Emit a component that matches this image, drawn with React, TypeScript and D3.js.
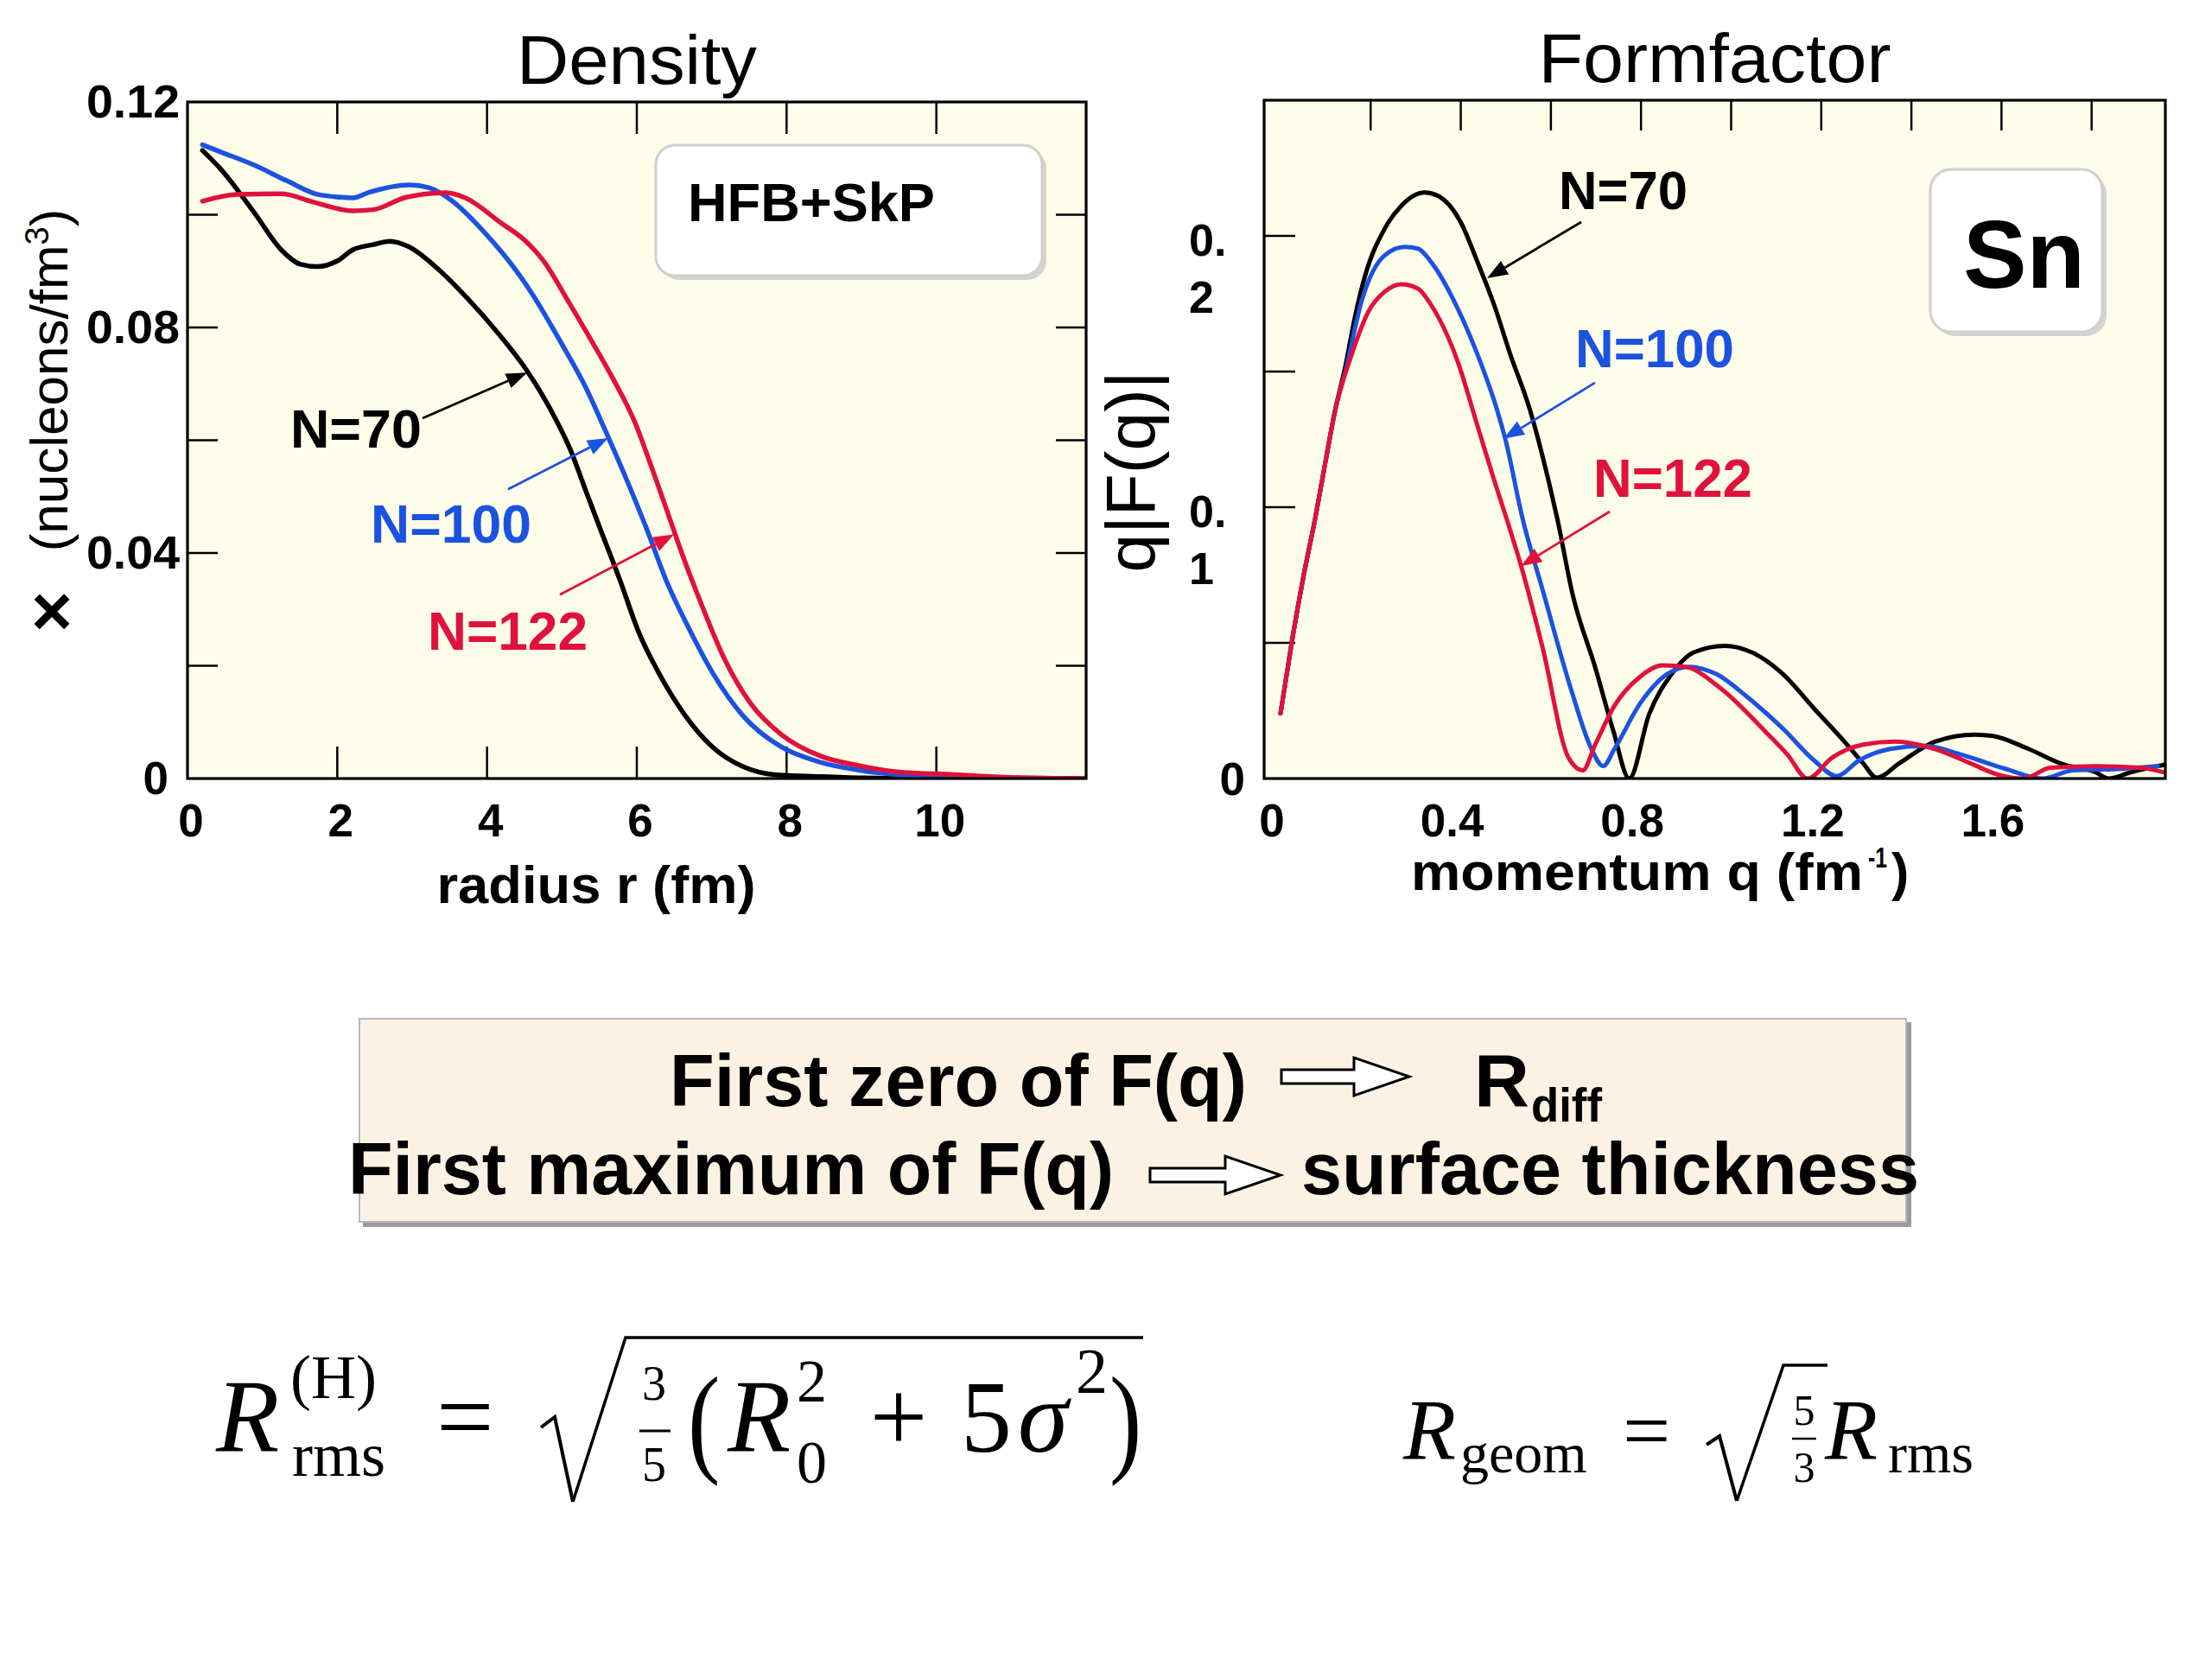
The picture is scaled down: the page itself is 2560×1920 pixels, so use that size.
import React from 'react';
import * as d3 from 'd3';

// ---------------- Data ----------------
const seriesNames = ['N=70', 'N=100', 'N=122'];
const seriesColors = ['#000000', '#1c52e0', '#e0123c'];

// Density (radius r in fm, density in nucleons/fm^3)
const densR70 = [0.2, 0.45, 0.89, 1.25, 1.51, 1.73, 2.0, 2.21, 2.48, 2.7, 2.96, 3.36, 3.75, 4.14, 4.55, 4.85, 5.11, 5.32, 5.52, 5.78, 6.03, 6.29, 6.65, 7.01, 7.42, 7.83, 8.34, 9.0, 10.0, 11.0, 12.0];
const densRho70 = [0.1114, 0.108, 0.1004, 0.0938, 0.0912, 0.0908, 0.0918, 0.0938, 0.0947, 0.0953, 0.0943, 0.0902, 0.085, 0.0791, 0.072, 0.0654, 0.0584, 0.051, 0.044, 0.035, 0.0258, 0.0188, 0.0111, 0.0056, 0.0021, 0.0007, 0.0004, 0.0001, 0, 0, 0];
const densR100 = [0.2, 0.45, 0.89, 1.33, 1.77, 2.21, 2.43, 2.96, 3.22, 3.53, 3.97, 4.41, 4.6, 4.85, 5.01, 5.32, 5.57, 5.88, 6.14, 6.39, 6.7, 7.01, 7.42, 7.93, 8.45, 8.96, 9.47, 10.24, 11.0, 12.0];
const densRho100 = [0.1124, 0.1111, 0.1088, 0.106, 0.1035, 0.103, 0.104, 0.1053, 0.1048, 0.1025, 0.0968, 0.0897, 0.086, 0.0805, 0.0768, 0.0693, 0.062, 0.0525, 0.044, 0.0352, 0.0265, 0.0188, 0.0111, 0.0056, 0.0029, 0.0015, 0.0007, 0.0002, 0.0001, 0];
const densR122 = [0.2, 0.67, 1.25, 1.69, 2.21, 2.48, 2.92, 3.45, 3.71, 4.19, 4.5, 4.77, 5.06, 5.37, 5.67, 5.98, 6.19, 6.39, 6.6, 6.86, 7.16, 7.52, 7.93, 8.45, 8.96, 9.47, 10.24, 11.0, 12.0];
const densRho122 = [0.1024, 0.1036, 0.1037, 0.1022, 0.1007, 0.1009, 0.1031, 0.1039, 0.103, 0.0985, 0.0955, 0.0915, 0.0852, 0.0782, 0.0712, 0.063, 0.0555, 0.048, 0.04, 0.031, 0.0215, 0.0133, 0.0078, 0.004, 0.0023, 0.0012, 0.0007, 0.0002, 0];

// Form factor (momentum q in fm^-1, q|F(q)|)
const ffQ70 = [0, 0.026, 0.051, 0.077, 0.1, 0.121, 0.144, 0.165, 0.188, 0.231, 0.268, 0.32, 0.349, 0.4, 0.437, 0.474, 0.51, 0.554, 0.598, 0.614, 0.648, 0.699, 0.739, 0.774, 0.818, 0.868, 0.917, 0.986, 1.046, 1.115, 1.184, 1.254, 1.293, 1.323, 1.373, 1.452, 1.541, 1.581, 1.66, 1.739, 1.808, 1.838, 1.888, 1.96];
const ffF70 = [0.024, 0.0513, 0.0746, 0.0959, 0.117, 0.1356, 0.152, 0.17, 0.1855, 0.2026, 0.2111, 0.216, 0.2148, 0.205, 0.1904, 0.1746, 0.1563, 0.1356, 0.1075, 0.0959, 0.068, 0.0406, 0.0173, 0, 0.0237, 0.0385, 0.0465, 0.0489, 0.0465, 0.0385, 0.0258, 0.0131, 0.0056, 0.0003, 0.0056, 0.0136, 0.0162, 0.0157, 0.0109, 0.0051, 0.0024, 0, 0.0024, 0.005];
const ffQ100 = [0, 0.026, 0.051, 0.077, 0.1, 0.121, 0.144, 0.18, 0.231, 0.276, 0.305, 0.334, 0.393, 0.437, 0.481, 0.499, 0.537, 0.582, 0.646, 0.69, 0.716, 0.741, 0.799, 0.858, 0.907, 0.967, 1.036, 1.115, 1.184, 1.234, 1.284, 1.353, 1.432, 1.511, 1.61, 1.69, 1.759, 1.858, 1.947];
const ffF100 = [0.024, 0.0513, 0.0746, 0.0959, 0.117, 0.1356, 0.15, 0.176, 0.1928, 0.1959, 0.1953, 0.1904, 0.1733, 0.1563, 0.1356, 0.125, 0.0959, 0.0693, 0.0322, 0.0109, 0.0046, 0.0109, 0.0279, 0.0385, 0.0412, 0.0385, 0.03, 0.0184, 0.0067, 0.0009, 0.0067, 0.0109, 0.012, 0.0088, 0.0035, 0, 0.003, 0.0035, 0.0046];
const ffQ122 = [0, 0.026, 0.051, 0.077, 0.1, 0.121, 0.158, 0.195, 0.231, 0.268, 0.305, 0.334, 0.393, 0.437, 0.474, 0.505, 0.531, 0.582, 0.639, 0.671, 0.697, 0.741, 0.798, 0.848, 0.897, 0.977, 1.076, 1.125, 1.17, 1.224, 1.293, 1.363, 1.452, 1.531, 1.591, 1.65, 1.709, 1.808, 1.908, 1.967];
const ffF122 = [0.024, 0.0513, 0.0746, 0.0959, 0.117, 0.1356, 0.1563, 0.1721, 0.1794, 0.1822, 0.1806, 0.1746, 0.1538, 0.13, 0.11, 0.094, 0.08, 0.048, 0.0077, 0.003, 0.012, 0.0268, 0.0375, 0.0417, 0.0412, 0.0332, 0.0173, 0.0088, 0, 0.0077, 0.0125, 0.0136, 0.0109, 0.0056, 0.0015, 0, 0.004, 0.0045, 0.004, 0.002];

// Axes ticks / labels
const densXTickVals = [2, 4, 6, 8, 10];
const densXLabelVals = [0, 2, 4, 6, 8, 10];
const densYTickVals = [0.02, 0.04, 0.06, 0.08, 0.1];
const densYLabelVals = [0, 0.04, 0.08, 0.12];
const densYLabelText = ['0', '0.04', '0.08', '0.12'];
const ffXTickVals = [0.2, 0.4, 0.6, 0.8, 1.0, 1.2, 1.4, 1.6, 1.8];
const ffXLabelVals = [0, 0.4, 0.8, 1.2, 1.6];
const ffXLabelText = ['0', '0.4', '0.8', '1.2', '1.6'];
const ffYTickVals = [0.05, 0.1, 0.15, 0.2];
const ffYLabelVals = [0.1, 0.2];
const ffYLabelTop = ['0.', '0.'];
const ffYLabelBottom = ['1', '2'];

// Annotation arrows: [labelX, labelY, fromX, fromY, tipX, tipY] in data units
const densAnnot = [
  [1.373, 0.0587, 3.139, 0.0639, 4.535, 0.072],
  [2.446, 0.0418, 4.28, 0.0513, 5.619, 0.0604],
  [3.208, 0.0228, 4.973, 0.0326, 6.496, 0.0433],
];
const densAnnotLen = [152, 186, 185];
const ffAnnot = [
  [0.6174, 0.2099, 0.6673, 0.2051, 0.4583, 0.1844],
  [0.6539, 0.1516, 0.698, 0.1459, 0.4947, 0.1252],
  [0.6942, 0.1038, 0.7306, 0.0984, 0.5331, 0.0783],
];
const ffAnnotLen = [149, 184, 184];

const SANS = "'Liberation Sans', Arial, Helvetica, sans-serif";
const SERIF = "'Liberation Serif', 'Times New Roman', serif";
const PLOT_BG = '#fefde9';

function zip(a: number[], b: number[]): [number, number][] {
  return a.map((v, i) => [v, b[i]] as [number, number]);
}

function arrowParts(x1: number, y1: number, x2: number, y2: number, len = 24, half = 9) {
  const a = Math.atan2(y2 - y1, x2 - x1);
  const bx = x2 - len * Math.cos(a);
  const by = y2 - len * Math.sin(a);
  const px = -Math.sin(a) * half;
  const py = Math.cos(a) * half;
  return {
    line: `M${x1},${y1}L${bx},${by}`,
    head: `M${x2},${y2}L${bx + px},${by + py}L${bx - px},${by - py}Z`,
  };
}

function blockArrow(x0: number, x1: number, cy: number, sh: number, hh: number, hl: number) {
  const xb = x1 - hl;
  return `M${x0},${cy - sh / 2}L${xb},${cy - sh / 2}L${xb},${cy - hh / 2}L${x1},${cy}L${xb},${cy + hh / 2}L${xb},${cy + sh / 2}L${x0},${cy + sh / 2}Z`;
}

export default function App() {
  // Density panel scales
  const dX = d3.scaleLinear().domain([0, 12]).range([217, 1257]);
  const dY = d3.scaleLinear().domain([0, 0.12]).range([901, 118]);
  // Form factor panel scales
  const fX = d3.scaleLinear().domain([-0.0364, 1.9636]).range([1463, 2506]);
  const fY = d3.scaleLinear().domain([0, 0.25]).range([901, 116]);

  const densLine = d3.line<[number, number]>().x(d => dX(d[0])).y(d => dY(d[1])).curve(d3.curveMonotoneX);
  const ffLine = d3.line<[number, number]>().x(d => fX(d[0])).y(d => fY(d[1])).curve(d3.curveMonotoneX);

  const densSeries = [zip(densR70, densRho70), zip(densR100, densRho100), zip(densR122, densRho122)];
  const ffSeries = [zip(ffQ70, ffF70), zip(ffQ100, ffF100), zip(ffQ122, ffF122)];

  const [dx0, dx1] = dX.range();
  const [dy0, dy1] = dY.range();
  const [fx0, fx1] = fX.range();
  const [fy0, fy1] = fY.range();
  const tickLen = 37;

  return (
    <svg width={2560} height={1920} style={{ position: 'absolute', left: 0, top: 0, background: '#ffffff' }}>
      <defs>
        <clipPath id="clipD"><rect x={dx0} y={dy1} width={dx1 - dx0} height={dy0 - dy1} /></clipPath>
        <clipPath id="clipF"><rect x={fx0} y={fy1} width={fx1 - fx0} height={fy0 - fy1} /></clipPath>
      </defs>
      <rect x={0} y={0} width={2560} height={1920} fill="#ffffff" />

      {/* ===== Density panel ===== */}
      <text x={(dx0 + dx1) / 2} y={97} textAnchor="middle" fontFamily={SANS} fontSize={80} textLength={278} lengthAdjust="spacingAndGlyphs">Density</text>
      <rect x={dx0} y={dy1} width={dx1 - dx0} height={dy0 - dy1} fill={PLOT_BG} />
      {densXTickVals.map(v => (
        <g key={'dxt' + v}>
          <line x1={dX(v)} x2={dX(v)} y1={dy1} y2={dy1 + tickLen} stroke="#000" strokeWidth={2.5} />
          <line x1={dX(v)} x2={dX(v)} y1={dy0} y2={dy0 - tickLen} stroke="#000" strokeWidth={2.5} />
        </g>
      ))}
      {densYTickVals.map(v => (
        <g key={'dyt' + v}>
          <line x1={dx0} x2={dx0 + tickLen - 2} y1={dY(v)} y2={dY(v)} stroke="#000" strokeWidth={2.5} />
          <line x1={dx1} x2={dx1 - tickLen + 2} y1={dY(v)} y2={dY(v)} stroke="#000" strokeWidth={2.5} />
        </g>
      ))}
      <g clipPath="url(#clipD)">
        {densSeries.map((s, i) => (
          <path key={'ds' + i} d={densLine(s) || ''} fill="none" stroke={seriesColors[i]} strokeWidth={5.5} strokeLinejoin="round" strokeLinecap="round" />
        ))}
      </g>
      <rect x={dx0} y={dy1} width={dx1 - dx0} height={dy0 - dy1} fill="none" stroke="#000" strokeWidth={3.2} />
      {densXLabelVals.map(v => (
        <text key={'dxl' + v} x={dX(v) + 4} y={968} textAnchor="middle" fontFamily={SANS} fontWeight="bold" fontSize={53}>{v}</text>
      ))}
      {densYLabelVals.map((v, i) => (
        <text key={'dyl' + v} x={v === 0 ? 195 : 208} y={dY(v) + 18} textAnchor="end" fontFamily={SANS} fontWeight="bold" fontSize={53}
          textLength={v === 0 ? undefined : 108} lengthAdjust="spacingAndGlyphs">{densYLabelText[i]}</text>
      ))}
      <text x={690} y={1045} textAnchor="middle" fontFamily={SANS} fontWeight="bold" fontSize={61} textLength={369} lengthAdjust="spacingAndGlyphs">radius r (fm)</text>
      <g transform="translate(78,440) rotate(-90)">
        <text x={0} y={0} textAnchor="middle" fontFamily={SANS} fontSize={62}>
          (nucleons/fm<tspan dy={-22} fontSize={38}>3</tspan><tspan dy={22}>)</tspan>
        </text>
      </g>
      <text x={60} y={735} textAnchor="middle" fontFamily={SANS} fontWeight="bold" fontSize={82}>×</text>

      {/* HFB+SkP box */}
      <rect x={764} y={173} width={447} height={151} rx={22} fill="#b9b9b9" opacity={0.6} />
      <rect x={759} y={168} width={447} height={151} rx={22} fill="#ffffff" stroke="#cfcfcf" strokeWidth={3} />
      <text x={796} y={256} fontFamily={SANS} fontWeight="bold" fontSize={63} textLength={286} lengthAdjust="spacingAndGlyphs">HFB+SkP</text>

      {densAnnot.map((a, i) => {
        const p = arrowParts(dX(a[2]), dY(a[3]), dX(a[4]), dY(a[5]));
        return (
          <g key={'da' + i}>
            <text x={dX(a[0])} y={dY(a[1])} fontFamily={SANS} fontWeight="bold" fontSize={63} fill={seriesColors[i]} textLength={densAnnotLen[i]} lengthAdjust="spacingAndGlyphs">{seriesNames[i]}</text>
            <path d={p.line} stroke={seriesColors[i]} strokeWidth={2.8} fill="none" />
            <path d={p.head} fill={seriesColors[i]} />
          </g>
        );
      })}

      {/* ===== Form factor panel ===== */}
      <text x={(fx0 + fx1) / 2} y={95} textAnchor="middle" fontFamily={SANS} fontSize={80} textLength={408} lengthAdjust="spacingAndGlyphs">Formfactor</text>
      <rect x={fx0} y={fy1} width={fx1 - fx0} height={fy0 - fy1} fill={PLOT_BG} />
      {ffXTickVals.map(v => (
        <line key={'fxt' + v} x1={fX(v)} x2={fX(v)} y1={fy1} y2={fy1 + 35} stroke="#000" strokeWidth={2.5} />
      ))}
      {ffYTickVals.map(v => (
        <line key={'fyt' + v} x1={fx0} x2={fx0 + 36} y1={fY(v)} y2={fY(v)} stroke="#000" strokeWidth={2.5} />
      ))}
      <g clipPath="url(#clipF)">
        {ffSeries.map((s, i) => (
          <path key={'fs' + i} d={ffLine(s) || ''} fill="none" stroke={seriesColors[i]} strokeWidth={5} strokeLinejoin="round" strokeLinecap="round" />
        ))}
      </g>
      <rect x={fx0} y={fy1} width={fx1 - fx0} height={fy0 - fy1} fill="none" stroke="#000" strokeWidth={3.2} />
      {ffXLabelVals.map((v, i) => (
        <text key={'fxl' + v} x={fX(v) - 10} y={968} textAnchor="middle" fontFamily={SANS} fontWeight="bold" fontSize={53}>{ffXLabelText[i]}</text>
      ))}
      <text x={1441} y={fY(0) + 19} textAnchor="end" fontFamily={SANS} fontWeight="bold" fontSize={53}>0</text>
      {ffYLabelVals.map((v, i) => (
        <g key={'fyl' + v}>
          <text x={1376} y={fY(v) + 23} fontFamily={SANS} fontWeight="bold" fontSize={52}>{ffYLabelTop[i]}</text>
          <text x={1376} y={fY(v) + 89} fontFamily={SANS} fontWeight="bold" fontSize={52}>{ffYLabelBottom[i]}</text>
        </g>
      ))}
      <text x={1633} y={1030} fontFamily={SANS} fontWeight="bold" fontSize={61} textLength={523} lengthAdjust="spacingAndGlyphs">momentum q (fm</text>
      <text x={2162} y={1004} fontFamily={SANS} fontWeight="bold" fontSize={34} textLength={22} lengthAdjust="spacingAndGlyphs">-1</text>
      <text x={2189} y={1030} fontFamily={SANS} fontWeight="bold" fontSize={61}>)</text>
      <g transform="translate(1336,546) rotate(-90)">
        <text x={0} y={0} textAnchor="middle" fontFamily={SANS} fontSize={80} textLength={233} lengthAdjust="spacingAndGlyphs">q|F(q)|</text>
      </g>

      {/* Sn box */}
      <rect x={2239} y={201} width={199} height={188} rx={24} fill="#b9b9b9" opacity={0.6} />
      <rect x={2234} y={196} width={199} height={188} rx={24} fill="#ffffff" stroke="#cfcfcf" strokeWidth={3} />
      <text x={2272} y={333} fontFamily={SANS} fontWeight="bold" fontSize={112} textLength={141} lengthAdjust="spacingAndGlyphs">Sn</text>

      {ffAnnot.map((a, i) => {
        const p = arrowParts(fX(a[2]), fY(a[3]), fX(a[4]), fY(a[5]));
        return (
          <g key={'fa' + i}>
            <text x={fX(a[0])} y={fY(a[1])} fontFamily={SANS} fontWeight="bold" fontSize={63} fill={seriesColors[i]} textLength={ffAnnotLen[i]} lengthAdjust="spacingAndGlyphs">{seriesNames[i]}</text>
            <path d={p.line} stroke={seriesColors[i]} strokeWidth={2.8} fill="none" />
            <path d={p.head} fill={seriesColors[i]} />
          </g>
        );
      })}

      {/* ===== Text box ===== */}
      <rect x={420} y={1183} width={1792} height={237} fill="#9a9a9a" />
      <rect x={416} y={1179} width={1790} height={235} fill="#fbf2e4" stroke="#b8b8b8" strokeWidth={2} />
      <text x={775} y={1280} fontFamily={SANS} fontWeight="bold" fontSize={86} textLength={668} lengthAdjust="spacingAndGlyphs">First zero of F(q)</text>
      <path d={blockArrow(1483, 1631, 1246, 16, 44, 64)} fill="#ffffff" stroke="#000" strokeWidth={3} />
      <text x={1706} y={1280} fontFamily={SANS} fontWeight="bold" fontSize={86} textLength={64} lengthAdjust="spacingAndGlyphs">R</text>
      <text x={1772} y={1298} fontFamily={SANS} fontWeight="bold" fontSize={56} textLength={82} lengthAdjust="spacingAndGlyphs">diff</text>
      <text x={403} y={1382} fontFamily={SANS} fontWeight="bold" fontSize={86} textLength={886} lengthAdjust="spacingAndGlyphs">First maximum of F(q)</text>
      <path d={blockArrow(1331, 1482, 1360, 16, 44, 64)} fill="#ffffff" stroke="#000" strokeWidth={3} />
      <text x={1506} y={1382} fontFamily={SANS} fontWeight="bold" fontSize={86} textLength={715} lengthAdjust="spacingAndGlyphs">surface thickness</text>

      {/* ===== Formula 1 ===== */}
      <g fontFamily={SERIF} fill="#000">
        <text x={250} y={1680} fontSize={120} fontStyle="italic">R</text>
        <text x={336} y={1618} fontSize={72}>(H)</text>
        <text x={338} y={1708} fontSize={72}>rms</text>
        <text x={505} y={1680} fontSize={118}>=</text>
        <path d="M626,1652 L642,1640 L663,1738" stroke="#000" strokeWidth={4} fill="none" />
        <path d="M663,1738 L724,1548 L1323,1548" stroke="#000" strokeWidth={3.5} fill="none" />
        <text x={757} y={1620} fontSize={56} textAnchor="middle">3</text>
        <line x1={740} x2={776} y1={1656} y2={1656} stroke="#000" strokeWidth={3} />
        <text x={757} y={1714} fontSize={56} textAnchor="middle">5</text>
        <text transform="translate(796,1690) scale(1,1.25)" fontSize={112}>(</text>
        <text x={842} y={1680} fontSize={120} fontStyle="italic">R</text>
        <text x={922} y={1622} fontSize={70}>2</text>
        <text x={922} y={1716} fontSize={70}>0</text>
        <text x={1040} y={1680} fontSize={118} textAnchor="middle">+</text>
        <text x={1112} y={1680} fontSize={118}>5</text>
        <text x={1178} y={1680} fontSize={118} fontStyle="italic">σ</text>
        <text x={1245} y={1612} fontSize={74}>2</text>
        <text transform="translate(1284,1690) scale(1,1.25)" fontSize={112}>)</text>
      </g>

      {/* ===== Formula 2 ===== */}
      <g fontFamily={SERIF} fill="#000">
        <text x={1624} y={1688} fontSize={100} fontStyle="italic">R</text>
        <text x={1690} y={1704} fontSize={66}>geom</text>
        <text x={1878} y={1688} fontSize={98}>=</text>
        <path d="M1975,1672 L1990,1662 L2010,1737" stroke="#000" strokeWidth={4} fill="none" />
        <path d="M2010,1737 L2064,1580 L2115,1580" stroke="#000" strokeWidth={3.5} fill="none" />
        <text x={2088} y={1649} fontSize={50} textAnchor="middle">5</text>
        <line x1={2074} x2={2102} y1={1665} y2={1665} stroke="#000" strokeWidth={2.5} />
        <text x={2088} y={1715} fontSize={50} textAnchor="middle">3</text>
        <text x={2112} y={1688} fontSize={100} fontStyle="italic">R</text>
        <text x={2185} y={1704} fontSize={66}>rms</text>
      </g>
    </svg>
  );
}
